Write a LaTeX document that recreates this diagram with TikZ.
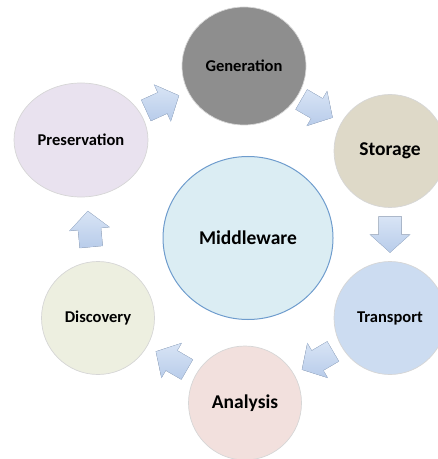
\documentclass[tikz,border=0pt]{standalone}
\usepackage{fontspec}
\setmainfont{Carlito}
\usetikzlibrary{shapes.geometric}

\definecolor{genFill}{HTML}{8E8E8E}
\definecolor{presFill}{HTML}{E9E2EF}
\definecolor{storFill}{HTML}{DED9C8}
\definecolor{midFill}{HTML}{DBEDF3}
\definecolor{midEdge}{HTML}{6E9CCD}
\definecolor{tranFill}{HTML}{CCDCF1}
\definecolor{anaFill}{HTML}{F2E0DD}
\definecolor{discFill}{HTML}{EDEFE0}
\definecolor{arrowTop}{HTML}{D8E4F5}
\definecolor{arrowBot}{HTML}{B8CCEA}
\definecolor{arrowEdge}{HTML}{AFC3E0}

\begin{document}
\begin{tikzpicture}[x=1bp,y=-1bp,
  stage/.style={ellipse, inner sep=0pt, draw=black!16, line width=0.7bp,
    font=\bfseries\fontsize{16.5bp}{19bp}\selectfont},
  bigtext/.style={font=\bfseries\fontsize{19.5bp}{23bp}\selectfont},
  flow/.pic={
    \fill[top color=arrowTop, bottom color=arrowBot, draw=arrowEdge, line width=0.4bp]
      (-18,-11.5) -- (0,-11.5) -- (0,-20) -- (18,0) -- (0,20) -- (0,11.5) -- (-18,11.5) -- cycle;
  },
  along/.style={pos=0.5, sloped, allow upside down}
]
\useasboundingbox (0,0) rectangle (438,459);
\clip (0,0) rectangle (438,459);

% the six stages around the cycle
\node[stage, fill=genFill,  minimum width=124bp, minimum height=118bp] (gen)  at (244,66)  {Generation};
\node[stage, fill=presFill, minimum width=134bp, minimum height=114bp] (pres) at (81,140)  {Preservation};
\node[stage, bigtext, fill=storFill, minimum width=112bp, minimum height=113bp] (stor) at (390,151) {Storage};
\node[stage, fill=tranFill, minimum width=112bp, minimum height=113bp] (tran) at (390,318) {Transport};
\node[stage, bigtext, fill=anaFill,  minimum width=113bp, minimum height=114bp] (ana)  at (245,403) {Analysis};
\node[stage, fill=discFill, minimum width=113bp, minimum height=113bp] (disc) at (98,318)  {Discovery};

% central hub
\node[stage, bigtext, fill=midFill, draw=midEdge, line width=1bp,
      minimum width=170bp, minimum height=163bp] (mid) at (248,238) {Middleware};

% block arrows between consecutive stages
\path (pres.center) -- pic[along]{flow} (gen.center);
\path (gen.center)  -- pic[along]{flow} (stor.center);
\path (stor.center) -- pic[along]{flow} (tran.center);
\path (tran.center) -- pic[along]{flow} (ana.center);
\path (ana.center)  -- pic[along]{flow} (disc.center);
\path (disc.center) -- pic[along]{flow} (pres.center);
\end{tikzpicture}
\end{document}
